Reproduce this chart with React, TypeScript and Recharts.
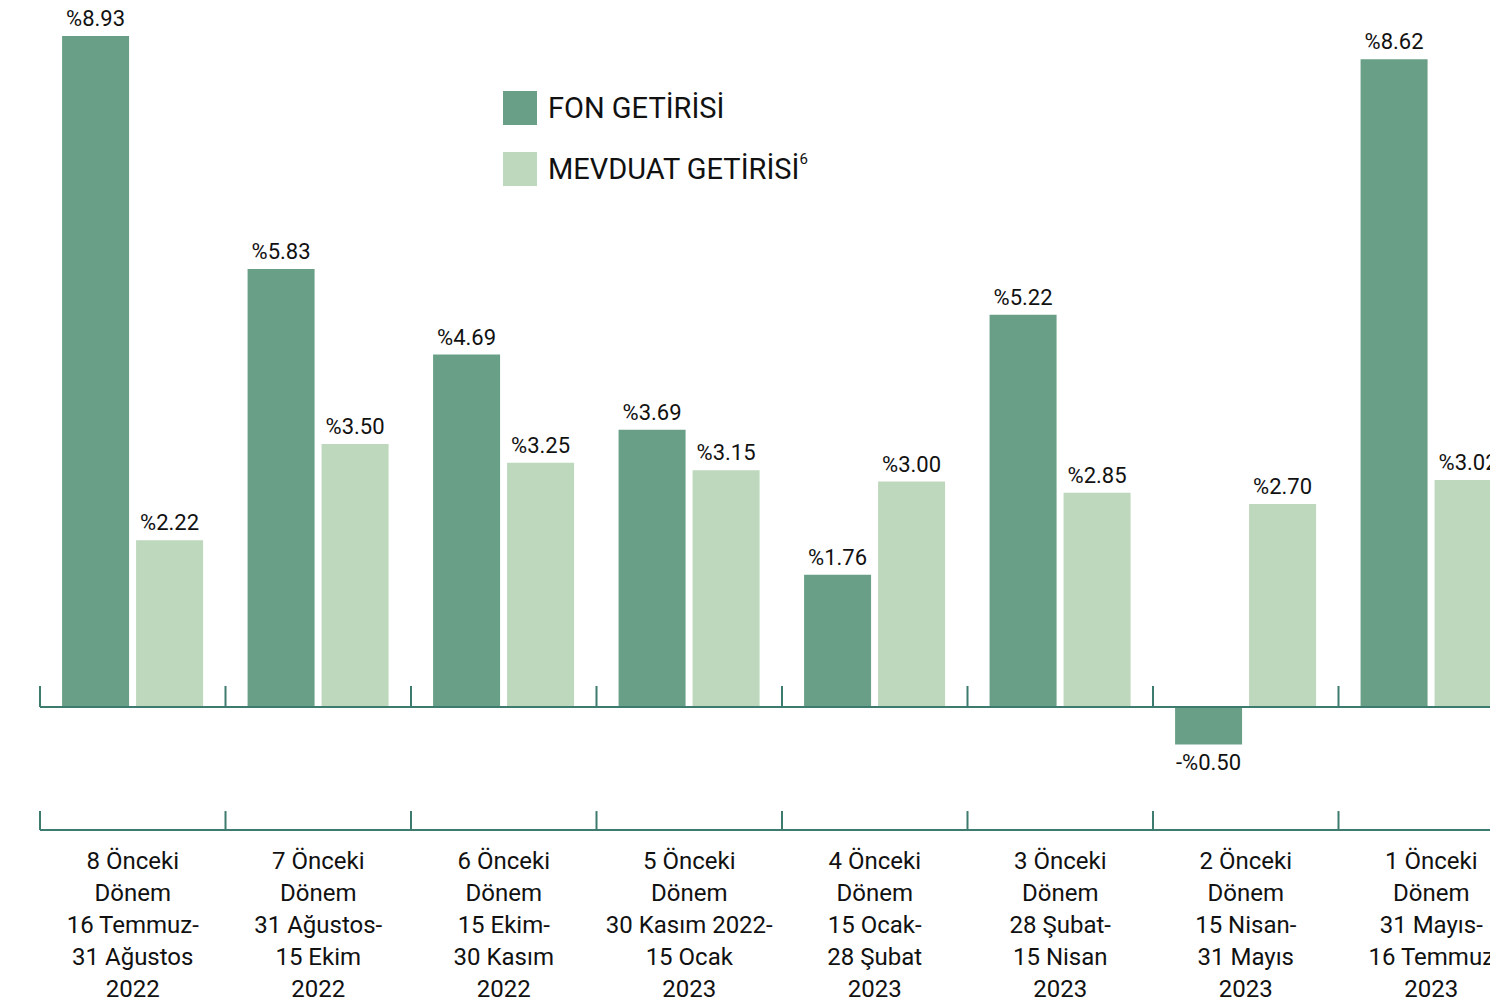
import React from 'react';
import {
  BarChart,
  Bar,
  XAxis,
  YAxis,
  Legend,
  LabelList,
  ReferenceLine,
} from 'recharts';

// Dönemler (alt eksen etiketleri)
const periods = [
  '8 Önceki\nDönem\n16 Temmuz-\n31 Ağustos\n2022',
  '7 Önceki\nDönem\n31 Ağustos-\n15 Ekim\n2022',
  '6 Önceki\nDönem\n15 Ekim-\n30 Kasım\n2022',
  '5 Önceki\nDönem\n30 Kasım 2022-\n15 Ocak\n2023',
  '4 Önceki\nDönem\n15 Ocak-\n28 Şubat\n2023',
  '3 Önceki\nDönem\n28 Şubat-\n15 Nisan\n2023',
  '2 Önceki\nDönem\n15 Nisan-\n31 Mayıs\n2023',
  '1 Önceki\nDönem\n31 Mayıs-\n16 Temmuz\n2023',
];

const fonReturns = [8.93, 5.83, 4.69, 3.69, 1.76, 5.22, -0.5, 8.62];
const depositReturns = [2.22, 3.5, 3.25, 3.15, 3.0, 2.85, 2.7, 3.02];

const Y_MIN = -1.637;
const Y_MAX = 8.93;

const FON = '#6a9f87';
const MEVDUAT = '#bdd8bc';
const AXIS = '#3e7b6f';
const FONT = 'Roboto, "Noto Sans", sans-serif';

const data = periods.map((p, i) => ({
  period: p,
  fon: fonReturns[i],
  mevduat: depositReturns[i],
}));

const fmt = (v: number) => (v < 0 ? `-%${Math.abs(v).toFixed(2)}` : `%${v.toFixed(2)}`);

function PeriodTick({ x, y, payload }: any) {
  const lines = String(payload.value).split('\n');
  return (
    <text x={x} y={y} textAnchor="middle" fill="#111" fontSize={24} fontFamily={FONT}>
      {lines.map((l, i) => (
        <tspan key={i} x={x} y={y + 31 + i * 32}>
          {l}
        </tspan>
      ))}
    </text>
  );
}

function LegendBox() {
  const items = [
    { name: 'FON GETİRİSİ', color: FON, sup: '' },
    { name: 'MEVDUAT GETİRİSİ', color: MEVDUAT, sup: '6' },
  ];
  return (
    <div style={{ fontFamily: FONT }}>
      {items.map((it) => (
        <div key={it.name} style={{ display: 'flex', alignItems: 'center', height: 34, marginBottom: 27 }}>
          <div style={{ width: 34, height: 34, background: it.color, marginRight: 11 }} />
          <span style={{ fontSize: 29, color: '#111', whiteSpace: 'nowrap' }}>
            {it.name}
            {it.sup && <sup style={{ fontSize: 15, verticalAlign: 'top', position: 'relative', top: -2 }}>{it.sup}</sup>}
          </span>
        </div>
      ))}
    </div>
  );
}

export default function App() {
  return (
    <div style={{ position: 'fixed', left: 0, top: 0, width: 1490, height: 1006, overflow: 'hidden', background: '#fff' }}>
      <BarChart
        width={1524}
        height={1006}
        data={data}
        margin={{ top: 36, right: 0, bottom: 0, left: 40 }}
        barCategoryGap="11.9%"
        barGap={7}
      >
        <XAxis
          xAxisId="cat"
          dataKey="period"
          height={176}
          interval={0}
          axisLine={{ stroke: AXIS, strokeWidth: 2 }}
          tickLine={false}
          tick={<PeriodTick />}
        />
        <YAxis hide type="number" domain={[Y_MIN, Y_MAX]} allowDataOverflow />
        <Legend
          layout="horizontal"
          verticalAlign="middle"
          align="center"
          content={<LegendBox />}
          wrapperStyle={{ position: 'absolute', left: 503, top: 91, width: 400, height: 100 }}
        />
        <Bar xAxisId="cat" dataKey="fon" fill={FON} isAnimationActive={false}>
          <LabelList
            dataKey="fon"
            position="top"
            offset={10}
            formatter={(v: any) => fmt(Number(v))}
            style={{ fill: '#111', fontSize: 22, fontFamily: FONT }}
          />
        </Bar>
        <Bar xAxisId="cat" dataKey="mevduat" fill={MEVDUAT} isAnimationActive={false}>
          <LabelList
            dataKey="mevduat"
            position="top"
            offset={10}
            formatter={(v: any) => fmt(Number(v))}
            style={{ fill: '#111', fontSize: 22, fontFamily: FONT }}
          />
        </Bar>
        <ReferenceLine xAxisId="cat" y={0} stroke={AXIS} strokeWidth={2} />
        {/* kategori sınır çizgileri: sıfır çizgisi ve alt eksen üzerinde */}
        {periods.map((p) => (
          <ReferenceLine
            key={'z' + p}
            xAxisId="cat"
            position="start"
            segment={[{ x: p, y: 0 }, { x: p, y: 0.28 }]}
            stroke={AXIS}
            strokeWidth={2}
          />
        ))}
        {periods.map((p) => (
          <ReferenceLine
            key={'b' + p}
            xAxisId="cat"
            position="start"
            segment={[{ x: p, y: Y_MIN }, { x: p, y: Y_MIN + 0.252 }]}
            stroke={AXIS}
            strokeWidth={2}
          />
        ))}
      </BarChart>
    </div>
  );
}
